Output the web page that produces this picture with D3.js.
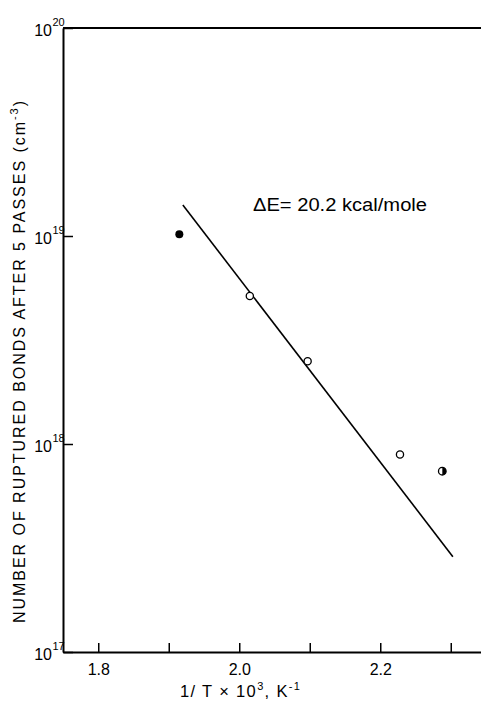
<!DOCTYPE html>
<html>
<head>
<meta charset="utf-8">
<script src="https://cdn.jsdelivr.net/npm/d3@7"></script>
<style>
  html, body { margin: 0; padding: 0; background: #fff; }
  svg { display: block; }
  text { font-family: "Liberation Sans", Arial, sans-serif; fill: #000; }
</style>
</head>
<body>
<svg id="chart" width="481" height="702"></svg>
<script>
// Measured points: reciprocal temperature (1/T x 10^3, K^-1) and ruptured bonds per cm^3
const invT = [1.915, 2.015, 2.097, 2.228, 2.288];
const bonds = [1.02e19, 5.15e18, 2.5e18, 8.9e17, 7.4e17];
const markerKind = ["filled", "open", "open", "open", "half"];

// Arrhenius fit: activation energy and the span/anchor of the drawn line
const deltaE = 20.2;            // kcal/mole
const gasR = 1.987e-3;          // kcal/(mole K)
const fitSpan = [1.92, 2.303];
const fitAnchorN = 1.41e19;     // value of the fit at fitSpan[0]

// Axis ticks and labels
const xTicks = [1.8, 1.9, 2.0, 2.1, 2.2, 2.3];
const xTickLabels = ["1.8", "", "2.0", "", "2.2", ""];
const yTicks = [1e17, 1e18, 1e19, 1e20];
const yExponents = ["17", "18", "19", "20"];

const svg = d3.select("#chart");

const x = d3.scaleLinear().domain([1.75, 2.35]).range([63, 486]);
const y = d3.scaleLog().domain([1e17, 1e20]).range([652, 28]);

// Top edge of the frame
svg.append("line")
  .attr("x1", x.range()[0]).attr("x2", x.range()[1])
  .attr("y1", y(1e20)).attr("y2", y(1e20))
  .attr("stroke", "#000").attr("stroke-width", 2);

// Bottom axis, ticks pointing inward
const xAxis = d3.axisBottom(x)
  .tickValues(xTicks)
  .tickSizeInner(-9)
  .tickSizeOuter(0)
  .tickPadding(12)
  .tickFormat((d, i) => xTickLabels[i]);
const gx = svg.append("g").attr("transform", `translate(0,${y(1e17)})`).call(xAxis);
gx.select(".domain").attr("stroke", "#000").attr("stroke-width", 2);
gx.selectAll(".tick line").attr("stroke", "#000").attr("stroke-width", 1.5);
gx.selectAll(".tick text")
  .attr("font-size", 16)
  .attr("font-family", "Liberation Sans, Arial, sans-serif")
  .attr("fill", "#000");

// Left axis, decade ticks pointing inward, labels as powers of ten
const yAxis = d3.axisLeft(y)
  .tickValues(yTicks)
  .tickSizeInner(-10)
  .tickSizeOuter(0)
  .tickFormat(() => "");
const gy = svg.append("g").attr("transform", `translate(${x.range()[0]},0)`).call(yAxis);
gy.select(".domain").attr("stroke", "#000").attr("stroke-width", 2);
gy.selectAll(".tick line").attr("stroke", "#000").attr("stroke-width", 1.5);
gy.selectAll(".tick text").remove();

const yLab = svg.append("g");
yTicks.forEach((v, i) => {
  yLab.append("text")
    .attr("x", 52)
    .attr("y", y(v) + 8)
    .attr("text-anchor", "end")
    .style("font-size", "16px")
    .text("10");
  yLab.append("text")
    .attr("x", 52.5)
    .attr("y", y(v) - 2)
    .style("font-size", "11px")
    .text(yExponents[i]);
});

// Arrhenius line: log10 N falls by deltaE / (2.303 R) per unit of 1000/T
const slope = deltaE / (Math.log(10) * gasR) / 1000;
const fitPoints = fitSpan.map(t => [t, fitAnchorN * Math.pow(10, -slope * (t - fitSpan[0]))]);
svg.append("path")
  .attr("d", d3.line().x(d => x(d[0])).y(d => y(d[1]))(fitPoints))
  .attr("stroke", "#000")
  .attr("stroke-width", 1.6)
  .attr("fill", "none");

// Data markers
const pts = invT.map((t, i) => ({ t, n: bonds[i], kind: markerKind[i] }));
const mg = svg.append("g");
pts.forEach(p => {
  const cx = x(p.t), cy = y(p.n);
  if (p.kind === "filled") {
    mg.append("circle").attr("cx", cx).attr("cy", cy).attr("r", 4).attr("fill", "#000");
  } else if (p.kind === "open") {
    mg.append("circle").attr("cx", cx).attr("cy", cy).attr("r", 3.6)
      .attr("fill", "#fff").attr("stroke", "#000").attr("stroke-width", 1.3);
  } else {
    const r = 3.8;
    mg.append("circle").attr("cx", cx).attr("cy", cy).attr("r", r)
      .attr("fill", "#fff").attr("stroke", "#000").attr("stroke-width", 1.3);
    mg.append("path")
      .attr("d", `M${cx},${cy - r} A${r},${r} 0 0 1 ${cx},${cy + r} Z`)
      .attr("fill", "#000");
  }
});

// Activation energy annotation
svg.append("text")
  .attr("x", 253)
  .attr("y", 211)
  .style("font-size", "17.5px")
  .attr("textLength", 174)
  .attr("lengthAdjust", "spacingAndGlyphs")
  .text(`\u0394E= ${deltaE.toFixed(1)} kcal/mole`);

// Spread a label's letters so it spans the given length
function spreadTo(sel, target) {
  const n = sel.text().length;
  const w = sel.node().getComputedTextLength();
  sel.attr("letter-spacing", Math.max(0, (target - w) / n));
}

// Y-axis title
const yTitle = svg.append("text")
  .attr("transform", "translate(25,361) rotate(-90)")
  .attr("text-anchor", "middle")
  .style("font-size", "16px");
yTitle.append("tspan").text("NUMBER OF RUPTURED BONDS AFTER 5 PASSES (cm");
yTitle.append("tspan").style("font-size", "11px").attr("dy", -7).text("-3");
yTitle.append("tspan").attr("dy", 7).text(")");
spreadTo(yTitle, 524);

// X-axis title
const xTitle = svg.append("text")
  .attr("x", 180)
  .attr("y", 697)
  .style("font-size", "16.5px");
xTitle.append("tspan").text("1/ T  \u00d7 10");
xTitle.append("tspan").style("font-size", "11px").attr("dy", -7).text("3");
xTitle.append("tspan").attr("dy", 7).text(",  K");
xTitle.append("tspan").style("font-size", "11px").attr("dy", -7).text("-1");
spreadTo(xTitle, 124);
</script>
</body>
</html>
